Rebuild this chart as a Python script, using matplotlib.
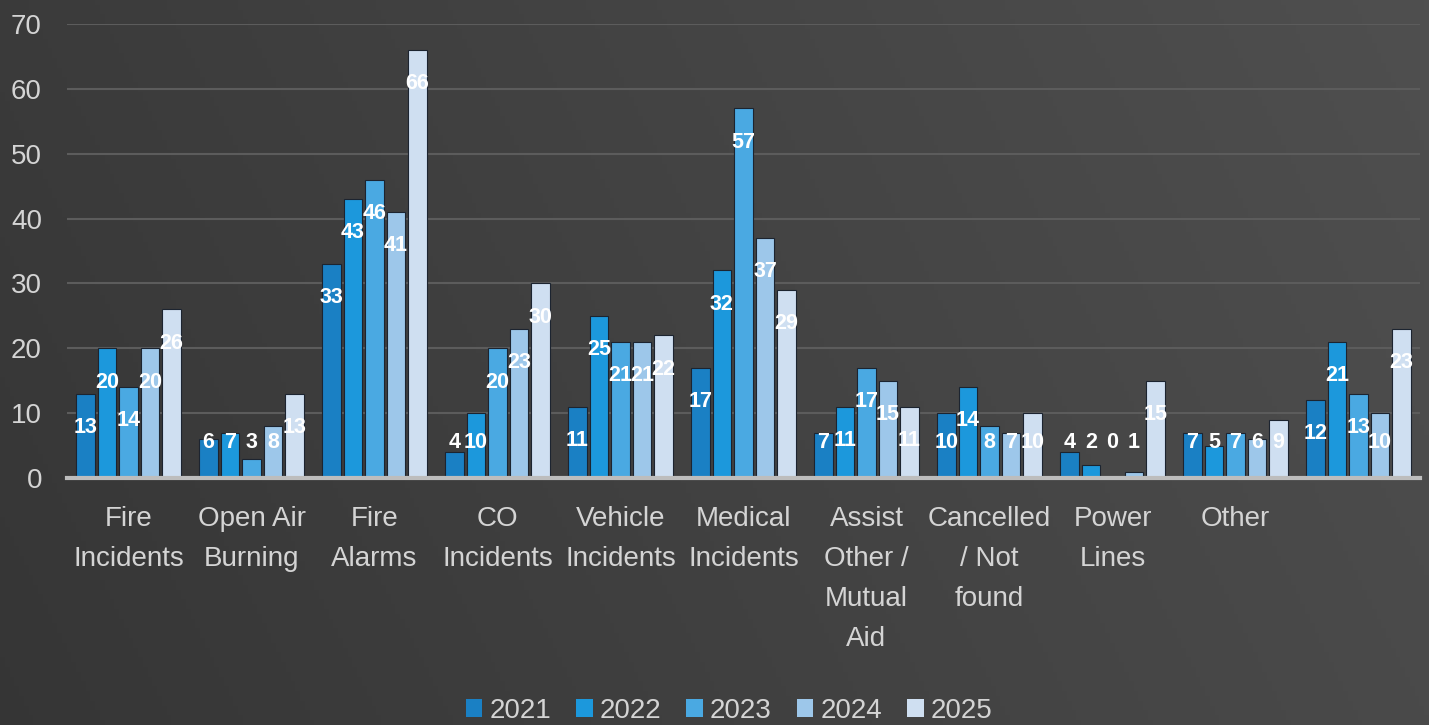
import numpy as np
import matplotlib
matplotlib.use("Agg")
import matplotlib.pyplot as plt
from matplotlib.patches import Patch

categories = ["Fire\nIncidents", "Open Air\nBurning", "Fire\nAlarms", "CO\nIncidents",
              "Vehicle\nIncidents", "Medical\nIncidents", "Assist\nOther /\nMutual\nAid",
              "Cancelled\n/ Not\nfound", "Power\nLines", "Other", ""]
years = ["2021", "2022", "2023", "2024", "2025"]
v2021 = [13, 6, 33, 4, 11, 17, 7, 10, 4, 7, 12]
v2022 = [20, 7, 43, 10, 25, 32, 11, 14, 2, 5, 21]
v2023 = [14, 3, 46, 20, 21, 57, 17, 8, 0, 7, 13]
v2024 = [20, 8, 41, 23, 21, 37, 15, 7, 1, 6, 10]
v2025 = [26, 13, 66, 30, 22, 29, 11, 10, 15, 9, 23]
series = [v2021, v2022, v2023, v2024, v2025]
colors = ["#1a80c4", "#1c98dc", "#4aa9e2", "#9dc7ea", "#cfdff1"]
yticks = [0, 10, 20, 30, 40, 50, 60, 70]

W, H = 1429, 725
fig = plt.figure(figsize=(W / 100, H / 100), dpi=100)

# background gradient
bg = fig.add_axes([0, 0, 1, 1], zorder=-10)
gx = np.linspace(0, 1, 300)
gy = np.linspace(0, 1, 150)
X, Y = np.meshgrid(gx, gy)
val = 0.21 + 0.08 * X + 0.02 * (1 - Y)
bg.imshow(np.dstack([val, val, val]), extent=[0, 1, 0, 1], aspect="auto", origin="upper")
bg.set_axis_off()

ax = fig.add_axes([67 / W, 1 - 478 / H, (1420 - 67) / W, (478 - 24) / H])
ax.patch.set_alpha(0)

n = len(categories)
x = np.arange(n)
step = 0.175
bw = 0.148
label_font = ["Liberation Sans Narrow", "Liberation Sans", "DejaVu Sans"]
for i, (vals, col, yr) in enumerate(zip(series, colors, years)):
    xs = x + (i - 2) * step
    ax.bar(xs, vals, width=bw, color=col, edgecolor="#1c2430", linewidth=0.8, zorder=3, label=yr)
    for xx, v in zip(xs, vals):
        ly = max(v - 5.2, 5.5)
        ax.text(xx, ly, str(v), ha="center", va="center", color="white",
                fontsize=15.5, fontweight="bold", family=label_font, zorder=5)

ax.set_xlim(-0.5, n - 0.5)
ax.set_ylim(0, 70)
ax.set_yticks(yticks)
ax.yaxis.grid(True, color="#5c5c5c", linewidth=1.5, zorder=0)
ax.set_axisbelow(True)
for s in ["top", "right", "left"]:
    ax.spines[s].set_visible(False)
ax.spines["bottom"].set_color("#bdbdbd")
ax.spines["bottom"].set_linewidth(3)
ax.spines["bottom"].set_zorder(6)
ax.tick_params(axis="y", length=0, pad=18, labelsize=20, labelcolor="#d4d4d4")
ax.tick_params(axis="x", length=0, pad=20, labelsize=20, labelcolor="#d4d4d4")
ax.set_xticks(x)
ax.set_xticklabels(categories, linespacing=1.7)
for lab in ax.get_xticklabels() + ax.get_yticklabels():
    lab.set_family(["Liberation Sans", "DejaVu Sans"])

handles = [Patch(facecolor=c, edgecolor="none", label=y) for c, y in zip(colors, years)]
fig.legend(handles=handles, loc="center", bbox_to_anchor=(729 / W, 1 - 711 / H), ncol=5,
           frameon=False, labelcolor="#d4d4d4", handlelength=0.6, handleheight=0.6,
           handletextpad=0.25, columnspacing=0.9,
           prop={"family": ["Liberation Sans", "DejaVu Sans"], "size": 20})

fig.savefig("out.png", dpi=100)
